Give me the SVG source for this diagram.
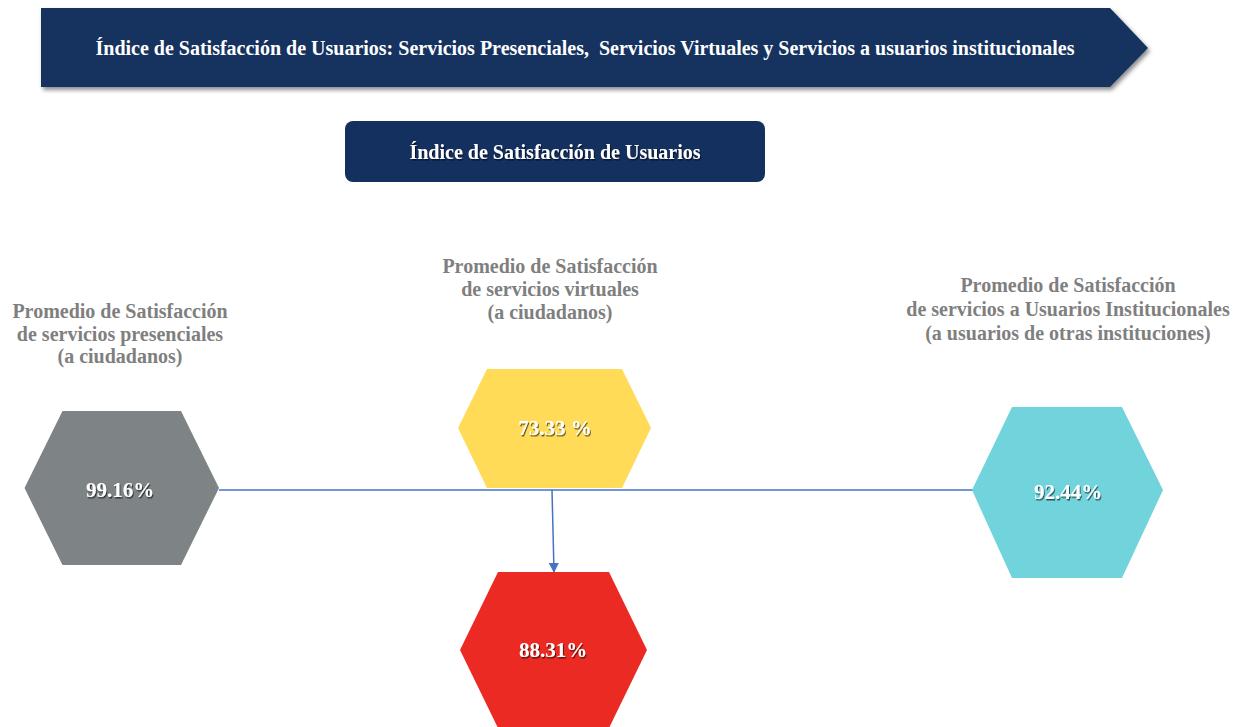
<svg xmlns="http://www.w3.org/2000/svg" width="1250" height="727" viewBox="0 0 1250 727">
  <defs>
    <filter id="boxShadow" x="-5%" y="-20%" width="110%" height="150%">
      <feDropShadow dx="2" dy="3" stdDeviation="2" flood-color="#000" flood-opacity="0.45"/>
    </filter>
    <filter id="txtShadow" x="-10%" y="-30%" width="120%" height="160%">
      <feDropShadow dx="1" dy="1.5" stdDeviation="0.7" flood-color="#000" flood-opacity="0.6"/>
    </filter>
    <marker id="arrow" viewBox="0 0 10 10" refX="9" refY="5" markerWidth="10" markerHeight="10" markerUnits="userSpaceOnUse" orient="auto">
      <path d="M0,0 L10,5 L0,10 z" fill="#4472C4"/>
    </marker>
  </defs>
  <style>
    .title { font-family: "Liberation Serif", "Times New Roman", serif; font-weight: bold; fill: #ffffff; text-anchor: middle; white-space: pre; }
    .label { font-family: "Liberation Serif", "Times New Roman", serif; font-weight: bold; fill: #7f7f7f; text-anchor: middle; font-size: 20px; }
    .val { font-family: "Liberation Serif", "Times New Roman", serif; font-weight: bold; fill: #ffffff; text-anchor: middle; font-size: 21px; }
    .conn { stroke: #4472C4; stroke-width: 1.5; fill: none; }
  </style>
  <rect width="1250" height="727" fill="#ffffff"/>

  <g id="banner">
    <polygon points="41,8 1110,8 1148,48 1110,87 41,87" fill="#14305f" filter="url(#boxShadow)"/>
    <text class="title" x="585" y="55" font-size="20" xml:space="preserve">Índice de Satisfacción de Usuarios: Servicios Presenciales,  Servicios Virtuales y Servicios a usuarios institucionales</text>
  </g>

  <g id="indice">
    <rect x="345" y="121" width="420" height="61" rx="8" ry="8" fill="#14305f"/>
    <text class="title" x="555" y="159" font-size="20" filter="url(#txtShadow)">Índice de Satisfacción de Usuarios</text>
  </g>

  <g id="connectors">
    <line class="conn" x1="219" y1="490" x2="973" y2="490"/>
    <line class="conn" x1="552" y1="490" x2="554" y2="572" marker-end="url(#arrow)"/>
  </g>

  <g id="presenciales">
    <text class="label" x="120" y="318">Promedio de Satisfacción</text>
    <text class="label" x="120" y="341">de servicios presenciales</text>
    <text class="label" x="120" y="363">(a ciudadanos)</text>
    <polygon points="24.5,488 62.5,411 181,411 219,488 181,565 62.5,565" fill="#7e8386"/>
    <text class="val" x="120" y="497" filter="url(#txtShadow)">99.16%</text>
  </g>

  <g id="virtuales">
    <text class="label" x="550" y="273">Promedio de Satisfacción</text>
    <text class="label" x="550" y="296">de servicios virtuales</text>
    <text class="label" x="550" y="319">(a ciudadanos)</text>
    <polygon points="458,428 487,369 622,369 651,428 622,488 487,488" fill="#ffdb58"/>
    <text class="val" x="555" y="435" filter="url(#txtShadow)">73.33 %</text>
  </g>

  <g id="institucionales">
    <text class="label" x="1068" y="292">Promedio de Satisfacción</text>
    <text class="label" x="1068" y="316">de servicios a Usuarios Institucionales</text>
    <text class="label" x="1068" y="340">(a usuarios de otras instituciones)</text>
    <polygon points="972,490 1012,407 1122,407 1163,490 1122,578 1012,578" fill="#71d3dc"/>
    <text class="val" x="1068" y="499" filter="url(#txtShadow)">92.44%</text>
  </g>

  <g id="indice-total">
    <polygon points="460,650 498,572 609,572 647,650 609,728 498,728" fill="#ec2a24"/>
    <text class="val" x="553" y="657" filter="url(#txtShadow)">88.31%</text>
  </g>
</svg>
